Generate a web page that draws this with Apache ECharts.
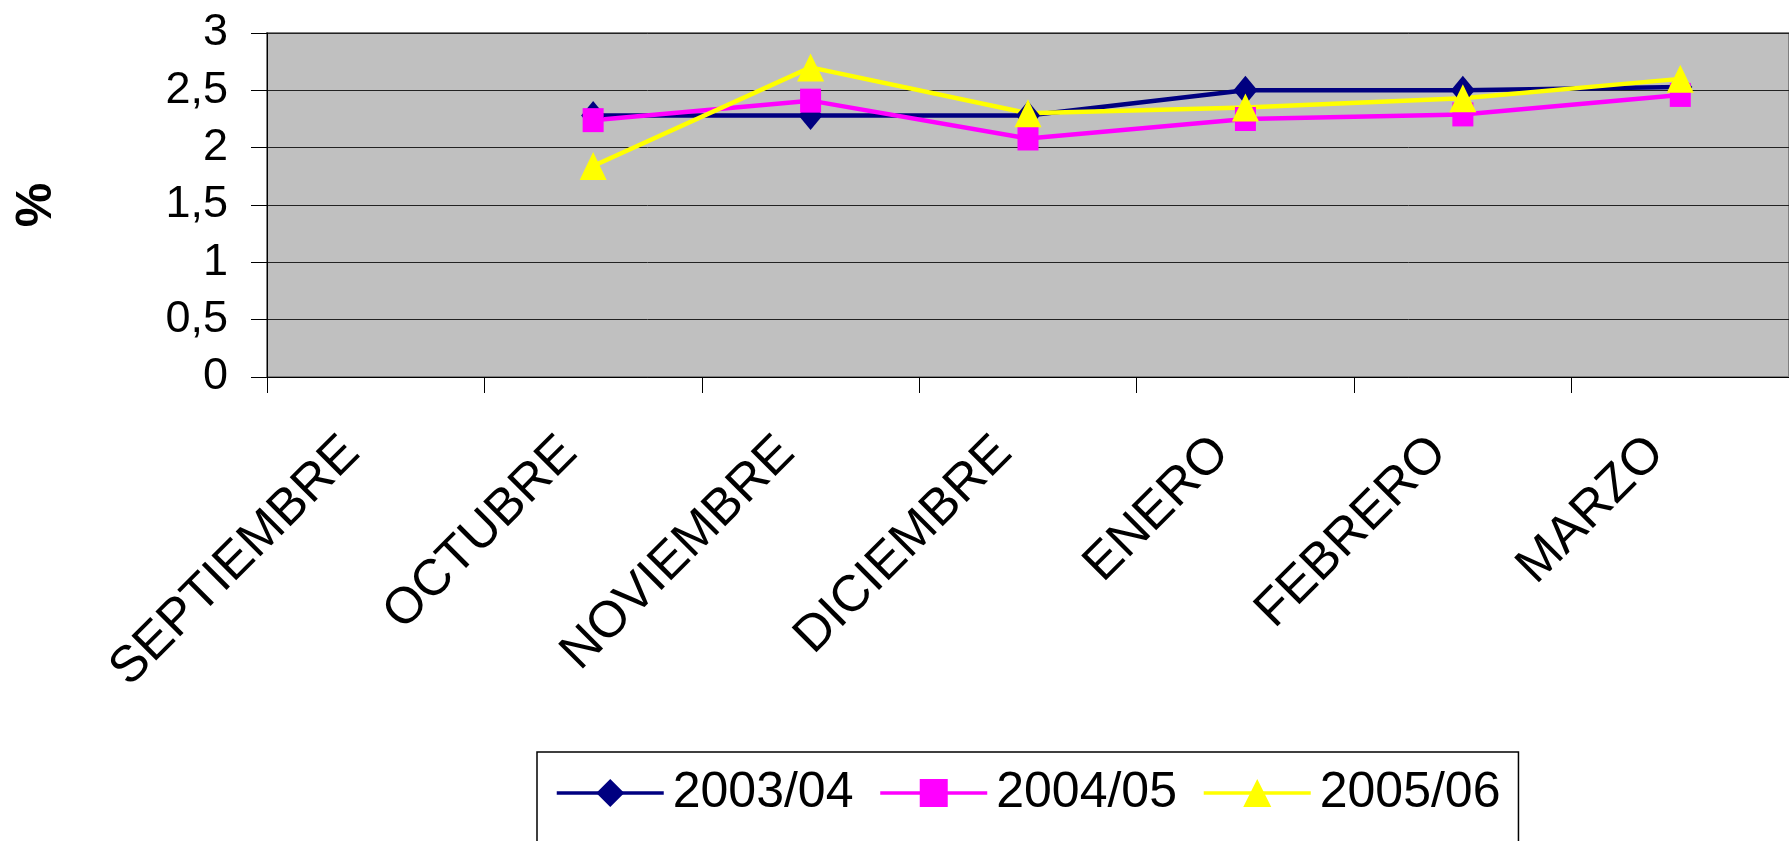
<!DOCTYPE html>
<html>
<head>
<meta charset="utf-8">
<script src="https://cdn.jsdelivr.net/npm/echarts@6/dist/echarts.min.js"></script>
<style>
  html, body { margin: 0; padding: 0; background: #ffffff; }
  #chart { width: 1789px; height: 841px; }
</style>
</head>
<body>
<div id="chart"></div>
<script>
// Monthly percentages per school year (SEPTIEMBRE has no data)
const categories = ['SEPTIEMBRE', 'OCTUBRE', 'NOVIEMBRE', 'DICIEMBRE', 'ENERO', 'FEBRERO', 'MARZO'];
const seriesNames = ['2003/04', '2004/05', '2005/06'];
const values2003 = [null, 2.28, 2.28, 2.28, 2.50, 2.50, 2.53];
const values2004 = [null, 2.24, 2.41, 2.08, 2.25, 2.29, 2.46];
const values2005 = [null, 1.84, 2.70, 2.30, 2.35, 2.43, 2.60];
const yTickLabels = ['0', '0,5', '1', '1,5', '2', '2,5', '3'];

const FONT = "'Liberation Sans', Arial, sans-serif";

function lineSeries(name, data, color, symbol, symbolSize) {
  return {
    name: name,
    type: 'line',
    data: data,
    symbol: symbol,
    symbolSize: symbolSize,
    showSymbol: true,
    connectNulls: false,
    lineStyle: { color: color, width: 4.5 },
    itemStyle: { color: color, borderWidth: 0 },
    emphasis: { disabled: true },
    animation: false
  };
}

const chart = echarts.init(document.getElementById('chart'), null, { renderer: 'canvas' });

chart.setOption({
  backgroundColor: '#ffffff',
  animation: false,
  grid: {
    left: 267,
    top: 33,
    right: -2,
    bottom: 464,
    show: true,
    backgroundColor: '#C0C0C0',
    borderColor: '#808080',
    borderWidth: 2
  },
  legend: {
    data: seriesNames,
    left: 537,
    top: 752,
    width: 980,
    padding: [16, 18, 60, 18],
    itemGap: 25,
    itemWidth: 107,
    itemHeight: 35,
    borderColor: '#000000',
    borderWidth: 1.5,
    lineStyle: { width: 3.5 },
    textStyle: {
      fontFamily: FONT,
      fontSize: 50,
      color: '#000000',
      padding: [0, 0, 0, 4]
    }
  },
  xAxis: {
    type: 'category',
    data: categories,
    boundaryGap: true,
    axisLine: { show: true, lineStyle: { color: '#000000', width: 1 } },
    axisTick: { show: true, length: 16, inside: false, lineStyle: { color: '#000000', width: 1 } },
    axisLabel: {
      interval: 0,
      rotate: 45,
      margin: 44,
      padding: [0, 34, 0, 0],
      fontFamily: FONT,
      fontSize: 51,
      color: '#000000'
    },
    splitLine: { show: false }
  },
  yAxis: {
    type: 'value',
    min: 0,
    max: 3,
    interval: 0.5,
    name: '%',
    nameLocation: 'middle',
    nameGap: 205,
    nameTextStyle: {
      fontFamily: FONT,
      fontSize: 50,
      fontWeight: 'bold',
      color: '#000000'
    },
    axisLine: { show: true, lineStyle: { color: '#000000', width: 1 } },
    axisTick: { show: true, length: 16, inside: false, lineStyle: { color: '#000000', width: 1 } },
    axisLabel: {
      margin: 39,
      fontFamily: FONT,
      fontSize: 45,
      color: '#000000',
      formatter: function (v) { return yTickLabels[Math.round(v / 0.5)]; }
    },
    splitLine: { show: true, lineStyle: { color: '#222222', width: 1 } }
  },
  series: [
    lineSeries(seriesNames[0], values2003, '#000080', 'diamond', [24, 29]),
    lineSeries(seriesNames[1], values2004, '#FF00FF', 'rect', [21, 24]),
    lineSeries(seriesNames[2], values2005, '#FFFF00', 'triangle', [27, 28])
  ]
});
</script>
</body>
</html>
